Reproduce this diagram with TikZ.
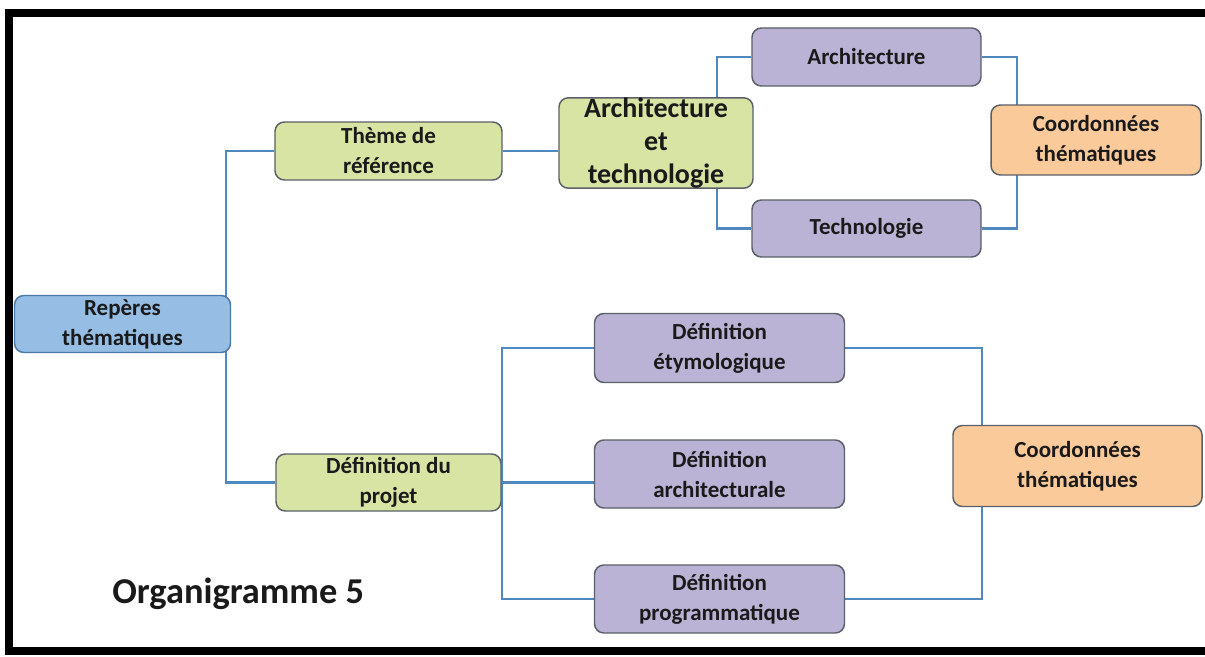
\documentclass[tikz,border=0pt]{standalone}
\usepackage{fontspec}
\setmainfont{Carlito}
\usetikzlibrary{backgrounds}
\definecolor{lnk}{HTML}{5088C0}
\definecolor{bluef}{HTML}{96BDE3}
\definecolor{blued}{HTML}{4A7AAA}
\definecolor{greenf}{HTML}{D8E4A4}
\definecolor{purplef}{HTML}{BBB3D5}
\definecolor{orangef}{HTML}{FBCA9B}
\definecolor{boxd}{HTML}{5A6068}
\definecolor{txt}{HTML}{1A1A1A}
\def\u{0.75pt}
\begin{document}
\begin{tikzpicture}[x=0.75pt,y=-0.75pt,
  box/.style={rounded corners=7pt, draw=boxd, line width=1.1pt, inner sep=0pt,
    align=center, text=txt, font=\bfseries\fontsize{17.25}{22.5}\selectfont},
  bigbox/.style={box, font=\bfseries\fontsize{21}{24.75}\selectfont},
  link/.style={draw=lnk, line width=2pt},
  frameline/.style={line width=6pt, draw=black}]
\useasboundingbox (0,0) rectangle (1205,656);

\node[box, fill=bluef, draw=blued, minimum width=216*\u, minimum height=57*\u] (rep) at (122.5,324) {Repères\\thématiques};
\node[box, fill=greenf, minimum width=227*\u, minimum height=58*\u] (theme) at (388.5,151) {Thème de\\référence};
\node[bigbox, fill=greenf, minimum width=194*\u, minimum height=90*\u] (archtech) at (656,143) {Architecture\\et\\technologie};
\node[box, fill=purplef, minimum width=229*\u, minimum height=58*\u] (arch) at (866.5,57) {Architecture};
\node[box, fill=purplef, minimum width=229*\u, minimum height=57*\u] (tech) at (866.5,228.5) {Technologie};
\node[box, fill=orangef, minimum width=210*\u, minimum height=70*\u] (coordA) at (1096,140) {Coordonnées\\thématiques};
\node[box, fill=greenf, minimum width=225*\u, minimum height=57*\u] (defp) at (388.5,482.5) {Définition du\\projet};
\node[box, fill=purplef, minimum width=250*\u, minimum height=69*\u] (etym) at (719.5,348) {Définition\\étymologique};
\node[box, fill=purplef, minimum width=250*\u, minimum height=68*\u] (archi) at (719.5,474) {Définition\\architecturale};
\node[box, fill=purplef, minimum width=250*\u, minimum height=68*\u] (prog) at (719.5,599) {Définition\\programmatique};
\node[box, fill=orangef, minimum width=249*\u, minimum height=81*\u] (coordB) at (1077.5,466) {Coordonnées\\thématiques};
\node[anchor=base west, text=txt, inner sep=0pt, font=\bfseries\fontsize{27.3}{31}\selectfont] (title) at (112,603) {Organigramme 5};

\coordinate (v1) at (226,0);
\coordinate (v2) at (717,0);
\coordinate (v3) at (1017,0);
\coordinate (v4) at (502,0);
\coordinate (v5) at (982,0);

\begin{scope}[on background layer]
\fill[white] (0,0) rectangle (1205,656);
\draw[frameline] (1205,13) -- (8.5,13) -- (8.5,651) -- (1205,651);
\draw[link] (theme.west) -| (v1 |- defp.west) -- (defp.west);
\draw[link] (theme.east) -- (theme.east -| archtech.west);
\draw[link] (arch.west) -| (v2 |- archtech.center);
\draw[link] (tech.west) -| (v2 |- archtech.center);
\draw[link] (arch.east) -| (v3 |- coordA.center);
\draw[link] (tech.east) -| (v3 |- coordA.center);
\draw[link] (etym.west) -| (v4 |- prog.west) -- (prog.west);
\draw[link] (defp.east) -- (defp.east -| archi.west);
\draw[link] (etym.east) -| (v5 |- coordB.center);
\draw[link] (prog.east) -| (v5 |- coordB.center);
\end{scope}
\end{tikzpicture}
\end{document}
